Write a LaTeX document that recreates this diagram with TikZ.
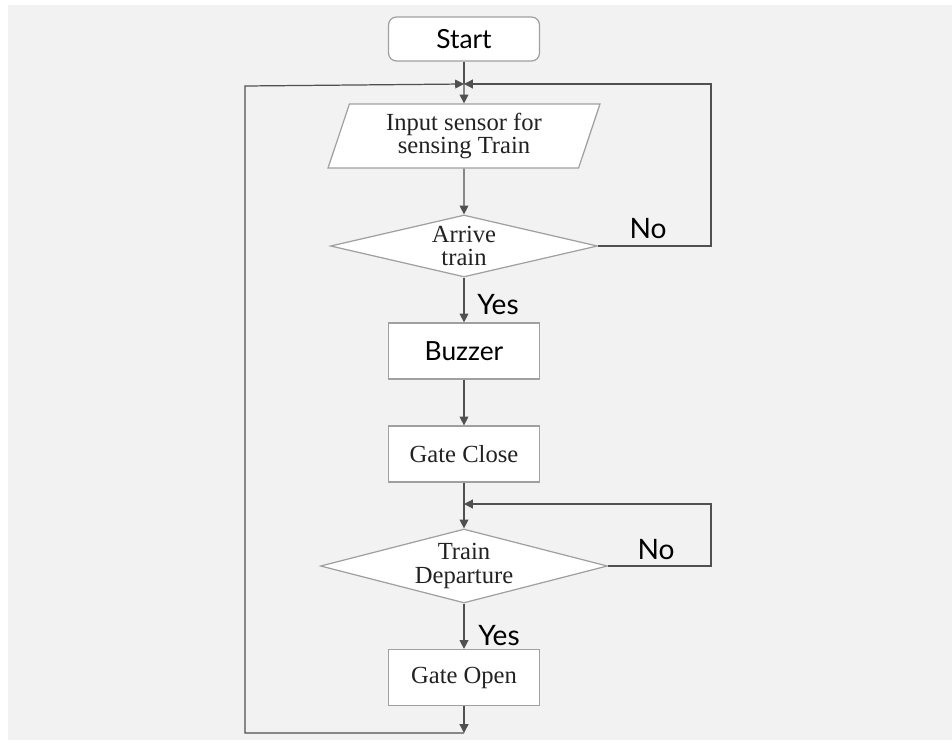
\documentclass[tikz,border=0pt]{standalone}
\usepackage{fontspec}
\setmainfont{Liberation Serif}
\newfontfamily\gill{Lato}
\usetikzlibrary{shapes.geometric,arrows.meta}
\definecolor{bg}{HTML}{F2F2F2}
\definecolor{shapeline}{HTML}{A0A0A0}
\definecolor{arrowline}{HTML}{505050}
\definecolor{txt}{HTML}{222222}
\begin{document}
\begin{tikzpicture}[x=0.02cm,y=-0.02cm,
  box/.style={draw=shapeline,fill=white,line width=0.7pt,minimum width=3.02cm,minimum height=1.12cm,inner sep=0pt,text=txt,font=\fontsize{14}{13.5}\selectfont},
  startbox/.style={box,rounded corners=0.16cm,minimum height=0.88cm,text=black,font=\gill\fontsize{15}{17}\selectfont},
  para/.style={trapezium,trapezium left angle=72.6,trapezium right angle=107.4,trapezium stretches=true,draw=shapeline,fill=white,line width=0.7pt,minimum width=5.44cm,minimum height=1.28cm,inner sep=0pt,align=center,text=txt,font=\fontsize{14}{13.5}\selectfont},
  dia/.style={diamond,draw=shapeline,fill=white,line width=0.7pt,inner sep=0pt},
  dtext/.style={align=center,inner sep=0pt,text=txt,font=\fontsize{14}{13.5}\selectfont},
  lab/.style={inner sep=0pt,text=black,font=\gill\fontsize{16}{18}\selectfont},
  plain/.style={draw=arrowline,line width=0.7pt},
  arr/.style={plain,-{Triangle[length=5pt,width=5pt]}}
]
\fill[white] (0,0) rectangle (952,740);
\fill[bg] (8,5) rectangle (952,740);
\useasboundingbox (0,0) rectangle (952,740);

\node[startbox] (start) at (464,39) {Start};
\coordinate (j1) at (464,84);
\node[para] (input) at (464,136) {Input sensor for\\sensing Train};
\node[dia,minimum width=5.34cm,minimum height=1.24cm] (d1) at (464,246) {};
\node[dtext] (d1t) at (d1) {Arrive\\train};
\node[box,text=black,font=\gill\fontsize{15}{17}\selectfont] (buzz) at (464,351) {Buzzer};
\node[box] (close) at (464,454) {Gate Close};
\coordinate (j2) at (464,504);
\node[dia,minimum width=5.74cm,minimum height=1.48cm] (d2) at (464,566) {};
\node[dtext] (d2t) at (d2) {Train\\Departure};
\node[box] (open) at (464,677.5) {Gate Open};
\coordinate (j3) at (464,733);
\coordinate (l1) at (245,86);
\coordinate (l2) at (245,733);
\coordinate (r1) at (711,84);
\coordinate (r2) at (711,504);

\draw[plain] (start) -- (j1);
\draw[arr] (j1) -- (input);
\draw[arr] (input) -- (d1);
\draw[arr] (d1) -- (buzz);
\draw[arr] (buzz) -- (close);
\draw[plain] (close) -- (j2);
\draw[arr] (j2) -- (d2);
\draw[arr] (d2) -- (open);
\draw[arr] (open) -- (j3);
\draw[arr] (j3) -- (l2) -- (l1) -- (j1);
\draw[arr] (d1.east) -- (r1 |- d1.east) -- (r1) -- (j1);
\draw[arr] (d2.east) -- (r2 |- d2.east) -- (r2) -- (j2);

\node[lab] (no1) at (648,229) {No};
\node[lab] (yes1) at (498,305) {Yes};
\node[lab] (no2) at (656,550) {No};
\node[lab] (yes2) at (499,636) {Yes};
\end{tikzpicture}
\end{document}
